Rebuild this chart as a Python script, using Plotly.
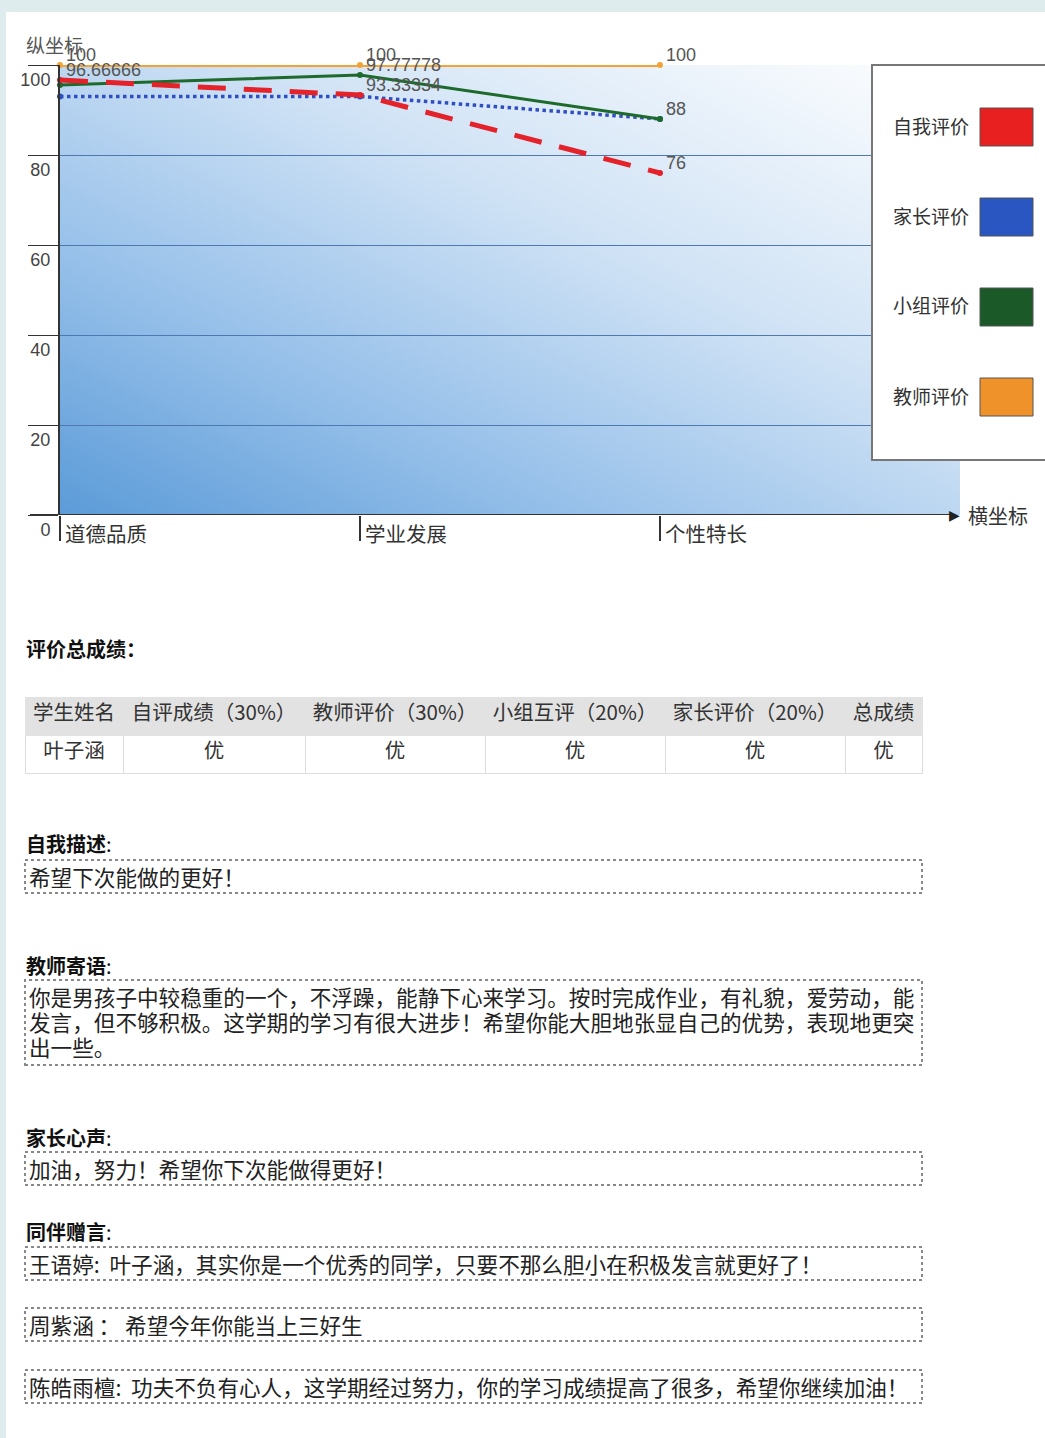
import base64
import plotly.graph_objects as go

# ---- chart data ----
categories = ["道德品质", "学业发展", "个性特长"]
series_names = ["自我评价", "家长评价", "小组评价", "教师评价"]
self_scores = [96.66666, 93.33334, 76]
parent_scores = [93, 93, 88]
group_scores = [95.55556, 97.77778, 88]
teacher_scores = [100, 100, 100]
y_ticks = [0, 20, 40, 60, 80, 100]

# ---- summary table ----
table_header = ["学生姓名", "自评成绩（30%）", "教师评价（30%）", "小组互评（20%）", "家长评价（20%）", "总成绩"]
table_row = ["叶子涵", "优", "优", "优", "优", "优"]

# ---- comment sections ----
self_desc = ["希望下次能做的更好！"]
teacher_words = [
    "你是男孩子中较稳重的一个，不浮躁，能静下心来学习。按时完成作业，有礼貌，爱劳动，能",
    "发言，但不够积极。这学期的学习有很大进步！希望你能大胆地张显自己的优势，表现地更突",
    "出一些。",
]
parent_words = ["加油，努力！希望你下次能做得更好！"]
peer_words = [
    "王语婷:  叶子涵，其实你是一个优秀的同学，只要不那么胆小在积极发言就更好了！",
    "周紫涵 ： 希望今年你能当上三好生",
    "陈皓雨檀:  功夫不负有心人，这学期经过努力，你的学习成绩提高了很多，希望你继续加油！",
]

W, H = 1045, 1438


def px(x):
    return x / W


def py(y):
    return 1 - y / H


CJK = "Noto Sans CJK SC"
LAT = "Liberation Sans"


def lab(v):
    return str(int(v)) if float(v).is_integer() else str(v)


fig = go.Figure()

styles = {
    "家长评价": dict(color="#2f4fc0", width=3.5, dash="dot"),
    "小组评价": dict(color="#1d6a2c", width=3, dash="solid"),
    "自我评价": dict(color="#e4222a", width=5, dash="28px,18px"),
    "教师评价": dict(color="#f3a336", width=4, dash="solid"),
}
values = {
    "自我评价": self_scores,
    "家长评价": parent_scores,
    "小组评价": group_scores,
    "教师评价": teacher_scores,
}
# which points carry a value label (the crowded first group shows a single one)
label_mask = {
    "自我评价": [True, True, True],
    "家长评价": [False, False, False],
    "小组评价": [False, True, True],
    "教师评价": [True, True, True],
}

annotations = []
for name in ["家长评价", "小组评价", "自我评价", "教师评价"]:
    st = styles[name]
    fig.add_trace(go.Scatter(
        x=categories, y=values[name], name=name,
        mode="lines+markers",
        line=st,
        marker=dict(size=6, color=st["color"]),
        cliponaxis=False,
        showlegend=False,
    ))
    # value labels just above-right of each point
    for c, v, m in zip(categories, values[name], label_mask[name]):
        if m:
            annotations.append(dict(text=lab(v), xref="x", yref="y", x=c, y=v,
                                    xanchor="left", yanchor="middle", xshift=4, yshift=10,
                                    showarrow=False,
                                    font=dict(family=LAT, size=18, color="#555")))

# summary table
fig.add_trace(go.Table(
    domain=dict(x=[px(25), px(922)], y=[py(790), py(697)]),
    columnwidth=[98, 182, 180, 180, 180, 77],
    header=dict(values=table_header, fill_color="#e2e2e2", line_color="#e2e2e2",
                align="center", height=38,
                font=dict(family=CJK, size=20.5, color="#333")),
    cells=dict(values=[[v] for v in table_row], fill_color="white", line_color="#dddddd",
               align="center", height=38,
               font=dict(family=CJK, size=20.5, color="#333")),
))

# gradient backdrop for the plot area
svg = (
    "<svg xmlns='http://www.w3.org/2000/svg' width='900' height='450' preserveAspectRatio='none'>"
    "<defs><linearGradient id='g' x1='0' y1='1' x2='1' y2='0'>"
    "<stop offset='0' stop-color='#5b9bd8'/>"
    "<stop offset='0.3' stop-color='#98c1ea'/>"
    "<stop offset='0.6' stop-color='#cfe2f5'/>"
    "<stop offset='1' stop-color='#ffffff'/>"
    "</linearGradient></defs>"
    "<rect width='900' height='450' fill='url(#g)'/></svg>"
)
src = "data:image/svg+xml;base64," + base64.b64encode(svg.encode()).decode()

shapes = [
    # page frame stripes
    dict(type="rect", xref="paper", yref="paper", x0=0, x1=1, y0=py(12), y1=1,
         fillcolor="#deecee", line_width=0, layer="below"),
    dict(type="rect", xref="paper", yref="paper", x0=0, x1=px(6), y0=0, y1=1,
         fillcolor="#deecee", line_width=0, layer="below"),
    # horizontal axis with arrow shaft
    dict(type="line", xref="paper", yref="y", x0=px(30), x1=px(952), y0=0, y1=0,
         line=dict(color="#333", width=2)),
    # legend frame
    dict(type="rect", xref="paper", yref="paper", x0=px(872), x1=px(1060), y0=py(460), y1=py(65),
         fillcolor="white", line=dict(color="#777", width=2)),
]

annotations += [
    dict(text="纵坐标", xref="paper", yref="paper", x=px(24), y=py(44), xanchor="left",
         yanchor="middle", showarrow=False, font=dict(family=CJK, size=19, color="#555")),
    dict(text="▶", xref="paper", yref="y", x=px(962), y=0, xanchor="right", yanchor="middle",
         showarrow=False, font=dict(family="DejaVu Sans", size=14, color="#222")),
    dict(text="横坐标", xref="paper", yref="y", x=px(966), y=0, xanchor="left", yanchor="middle",
         showarrow=False, font=dict(family=CJK, size=20, color="#333")),
]

# custom legend: label on the left, colour swatch on the right
legend_colors = {"自我评价": "#e82020", "家长评价": "#2956c0", "小组评价": "#1b5a28", "教师评价": "#f0922a"}
for i, name in enumerate(series_names):
    cy = 127 + i * 90
    shapes.append(dict(type="rect", xref="paper", yref="paper",
                       x0=px(980), x1=px(1033), y0=py(cy + 19), y1=py(cy - 19),
                       fillcolor=legend_colors[name], line=dict(color="#555", width=1)))
    annotations.append(dict(text=name, xref="paper", yref="paper", x=px(971), y=py(cy - 2),
                            xanchor="right", yanchor="middle", showarrow=False,
                            font=dict(family=CJK, size=19, color="#333")))

# headings and dotted comment boxes
annotations.append(dict(text="<b>评价总成绩：</b>", xref="paper", yref="paper", x=px(24), y=py(648),
                        xanchor="left", yanchor="middle", showarrow=False,
                        font=dict(family=CJK, size=20, color="#111")))

sections = [
    ("自我描述:", 843, [(860, 893, self_desc)]),
    ("教师寄语:", 965, [(980, 1065, teacher_words)]),
    ("家长心声:", 1137, [(1152, 1185, parent_words)]),
    ("同伴赠言:", 1231, [(1247, 1280, peer_words[:1]), (1308, 1341, peer_words[1:2]),
                        (1370, 1403, peer_words[2:])]),
]
for heading, hy, boxes in sections:
    annotations.append(dict(text="<b>" + heading[:-1] + "</b>" + heading[-1], xref="paper", yref="paper",
                            x=px(24), y=py(hy), xanchor="left", yanchor="middle", showarrow=False,
                            font=dict(family=CJK, size=20, color="#111")))
    for top, bottom, lines in boxes:
        shapes.append(dict(type="rect", xref="paper", yref="paper",
                           x0=px(25), x1=px(922), y0=py(bottom), y1=py(top),
                           line=dict(color="#888", width=2, dash="dot")))
        for k, line in enumerate(lines):
            annotations.append(dict(text=line, xref="paper", yref="paper",
                                    x=px(27), y=py(top + 16 + 25 * k),
                                    xanchor="left", yanchor="middle", showarrow=False,
                                    font=dict(family=CJK, size=21.6, color="#222")))

fig.update_layout(
    width=W, height=H,
    margin=dict(l=0, r=0, t=0, b=0),
    paper_bgcolor="white",
    plot_bgcolor="rgba(0,0,0,0)",
    xaxis=dict(
        domain=[px(60), px(960)], type="category", range=[0, 3],
        showline=False, showgrid=False, zeroline=False,
        ticks="outside", ticklen=25, tickcolor="#333", tickwidth=1.5,
        ticklabelshift=46, ticklabelstandoff=-24,
        tickfont=dict(family=CJK, size=20.5, color="#333"),
        automargin=False,
    ),
    yaxis=dict(
        domain=[py(515), py(65)], range=[0, 100],
        tickvals=y_ticks, ticktext=[str(v) for v in y_ticks],
        showline=True, linecolor="#333", linewidth=2,
        showgrid=True, gridcolor="#4f78b0", gridwidth=1, zeroline=False,
        ticks="outside", ticklen=30, tickcolor="#333", tickwidth=1,
        ticklabelshift=15, ticklabelstandoff=-26,
        tickfont=dict(family=LAT, size=18, color="#444"),
        automargin=False,
    ),
    images=[dict(source=src, xref="paper", yref="paper", x=px(60), y=py(65),
                 sizex=px(960) - px(60), sizey=450 / H, sizing="stretch",
                 xanchor="left", yanchor="top", layer="below")],
    shapes=shapes,
    annotations=annotations,
    showlegend=False,
)

fig.write_html("out.html")
